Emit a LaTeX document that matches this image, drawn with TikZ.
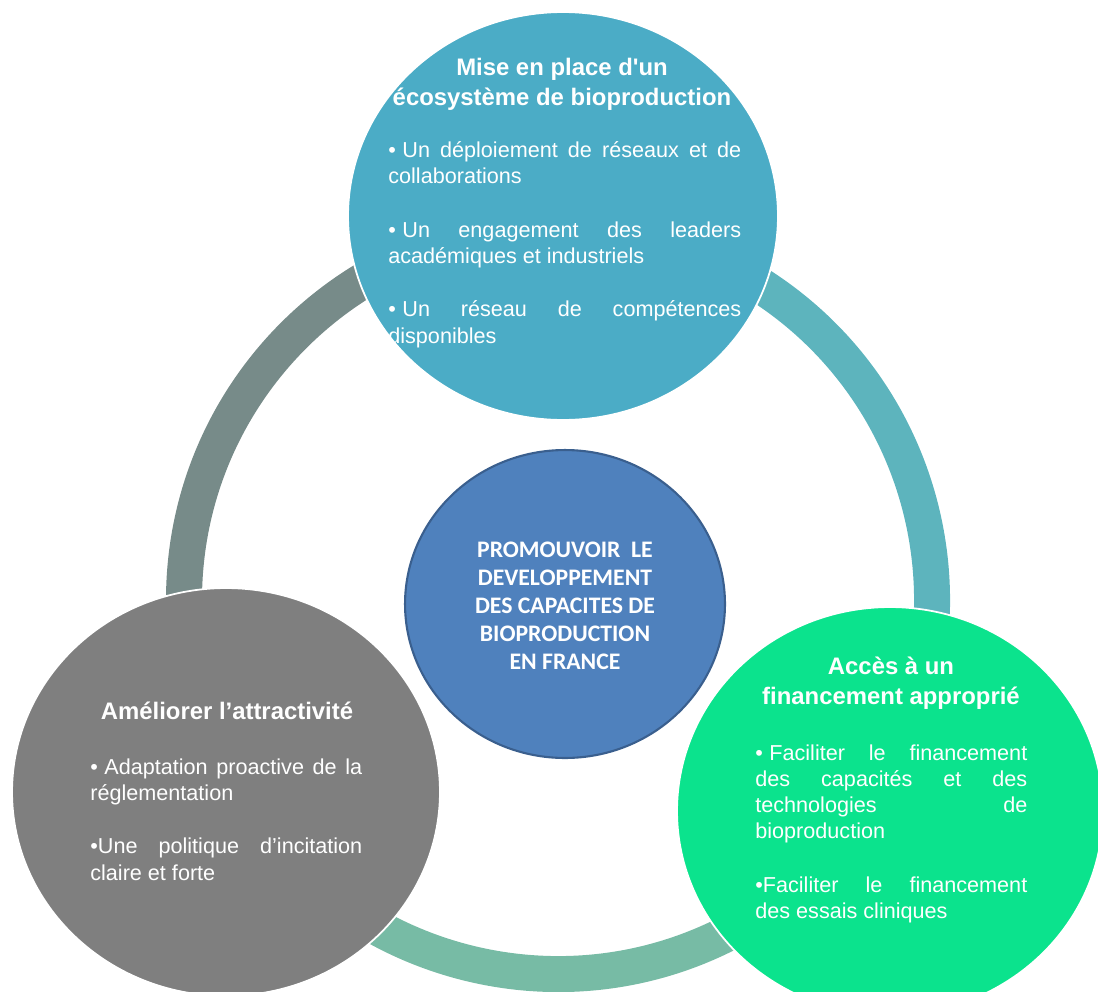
\documentclass[tikz,border=0pt]{standalone}
\usepackage{fontspec}
\setmainfont{Liberation Sans}
\newfontfamily\plainsans{Liberation Sans}
\newfontfamily\calib{Carlito}
\usetikzlibrary{shapes.geometric}
\definecolor{topblue}{HTML}{4BACC6}
\definecolor{midblue}{HTML}{4F81BD}
\definecolor{midedge}{HTML}{3A5F8E}
\definecolor{leftgray}{HTML}{7F7F7F}
\definecolor{rightgreen}{HTML}{0BE38D}
\definecolor{ringL}{HTML}{778B89}
\definecolor{ringR}{HTML}{5DB4BD}
\definecolor{ringB}{HTML}{77BBA5}
\hyphenpenalty=10000
\exhyphenpenalty=10000
\newcommand{\bul}{•\hspace{0.3em}}

\begin{document}
\begin{tikzpicture}[x=0.02cm,y=0.02cm,
  bubble/.style={ellipse,inner sep=0pt,draw=white,line width=1pt},
  head/.style={text=white,align=center,inner sep=0pt,font=\fontsize{13.6}{17}\selectfont\bfseries},
  body/.style={text=white,align=justify,anchor=north west,inner sep=0pt,text width=5.44cm,font=\fontsize{12.3}{14.9}\selectfont},
  ring/.style={line width=0.72cm}]
\useasboundingbox (0,0) rectangle (1098,-991);
% ring
\coordinate (c) at (558,-600);
\draw[ring,ringL] ([shift={(90:374)}]c) arc[start angle=90,end angle=210,radius=374];
\draw[ring,ringB] ([shift={(210:374)}]c) arc[start angle=210,end angle=328,radius=374];
\draw[ring,ringR] ([shift={(328:374)}]c) arc[start angle=328,end angle=450,radius=374];
% circles
\node[bubble,fill=topblue,minimum width=8.6cm,minimum height=8.16cm] (top) at (563,-216) {};
\node[bubble,fill=leftgray,minimum width=8.56cm,minimum height=8.16cm] (left) at (226,-792) {};
\node[bubble,fill=rightgreen,minimum width=8.52cm,minimum height=8.16cm] (right) at (890,-811) {};
\node[ellipse,inner sep=0pt,fill=midblue,draw=midedge,line width=1.2pt,minimum width=6.4cm,minimum height=6.16cm] (mid) at (565,-604) {};
% texts
\node[head] (topT) at (562,-84) {Mise en place d{\plainsans\bfseries '}un\\écosystème de bioproduction};
\node[body,text width=7.06cm] (topB) at (388,-141) {\bul Un déploiement de réseaux et de\linebreak collaborations\par\vspace{1.05\baselineskip}\bul Un engagement des leaders\linebreak académiques et industriels\par\vspace{1.05\baselineskip}\bul Un réseau de compétences\linebreak disponibles};
\node[head] (leftT) at (227,-711) {Améliorer l’attractivité};
\node[body] (leftB) at (90,-758) {\bul Adaptation proactive de la\linebreak réglementation\par\vspace{1.05\baselineskip}•Une politique d’incitation\linebreak claire et forte};
\node[head] (rightT) at (891,-683) {Accès à un\\financement approprié};
\node[body] (rightB) at (755,-744) {\bul Faciliter le financement\linebreak des capacités et des\linebreak technologies de\linebreak bioproduction\par\vspace{1.05\baselineskip}•Faciliter le financement\linebreak des essais cliniques};
\node[text=white,align=center,inner sep=0pt,font=\calib\bfseries\fontsize{13.5}{15.9}\selectfont] (midT) at (565,-606) {PROMOUVOIR~~LE\\DEVELOPPEMENT\\DES CAPACITES DE\\BIOPRODUCTION\\EN FRANCE};
\end{tikzpicture}
\end{document}
